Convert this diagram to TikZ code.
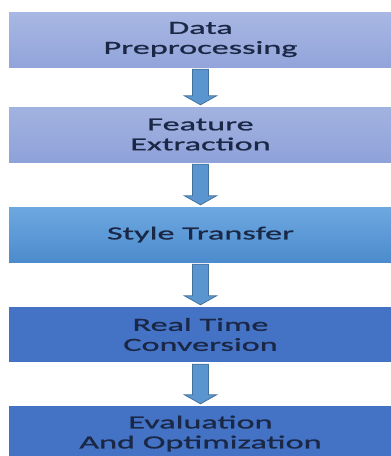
\documentclass[tikz,border=0pt]{standalone}
\usepackage{fontspec}
\setmainfont[FakeStretch=1.85,FakeBold=0.9]{Carlito}
\definecolor{txt}{HTML}{1A2745}
\definecolor{bAtop}{HTML}{A8B7E3}
\definecolor{bAbot}{HTML}{92A4DA}
\definecolor{bBtop}{HTML}{A2B2E0}
\definecolor{bBbot}{HTML}{8FA2D9}
\definecolor{bCtop}{HTML}{6EA8E0}
\definecolor{bCbot}{HTML}{4C8BCD}
\definecolor{bD}{HTML}{4472C4}
\definecolor{arrfill}{HTML}{5B95D0}
\definecolor{arredge}{HTML}{41719C}
\tikzset{
  stagebox/.style={rectangle, minimum width=383pt, minimum height=55pt, inner sep=0pt,
    align=center, text=txt, font=\fontsize{18.5}{20}\selectfont},
  fatarrow/.style={fill=arrfill, draw=arredge, line width=0.8pt, line join=miter}
}
\newcommand{\downarrowshape}[2]{%
  \filldraw[fatarrow] ([xshift=-8pt,yshift=-2pt]#1.south) -- ([xshift=-8pt,yshift=11pt]#2.north)
   -- ([xshift=-16pt,yshift=11pt]#2.north) -- ([yshift=2pt]#2.north)
   -- ([xshift=16pt,yshift=11pt]#2.north) -- ([xshift=8pt,yshift=11pt]#2.north)
   -- ([xshift=8pt,yshift=-2pt]#1.south) -- cycle;}
\begin{document}
\begin{tikzpicture}[x=1pt,y=1pt]
\useasboundingbox (0,0) rectangle (391,-456);
\node[stagebox, top color=bAtop, bottom color=bAbot] (b1) at (200.5,-39.5) {Data\\Preprocessing};
\node[stagebox, top color=bBtop, bottom color=bBbot] (b2) at (200.5,-134.5) {Feature\\Extraction};
\node[stagebox, top color=bCtop, bottom color=bCbot] (b3) at (200.5,-234.5) {Style Transfer};
\node[stagebox, fill=bD] (b4) at (200.5,-334.5) {Real Time\\Conversion};
\node[stagebox, fill=bD] (b5) at (200.5,-433.5) {Evaluation\\And Optimization};
\downarrowshape{b1}{b2}
\downarrowshape{b2}{b3}
\downarrowshape{b3}{b4}
\downarrowshape{b4}{b5}
\end{tikzpicture}
\end{document}
